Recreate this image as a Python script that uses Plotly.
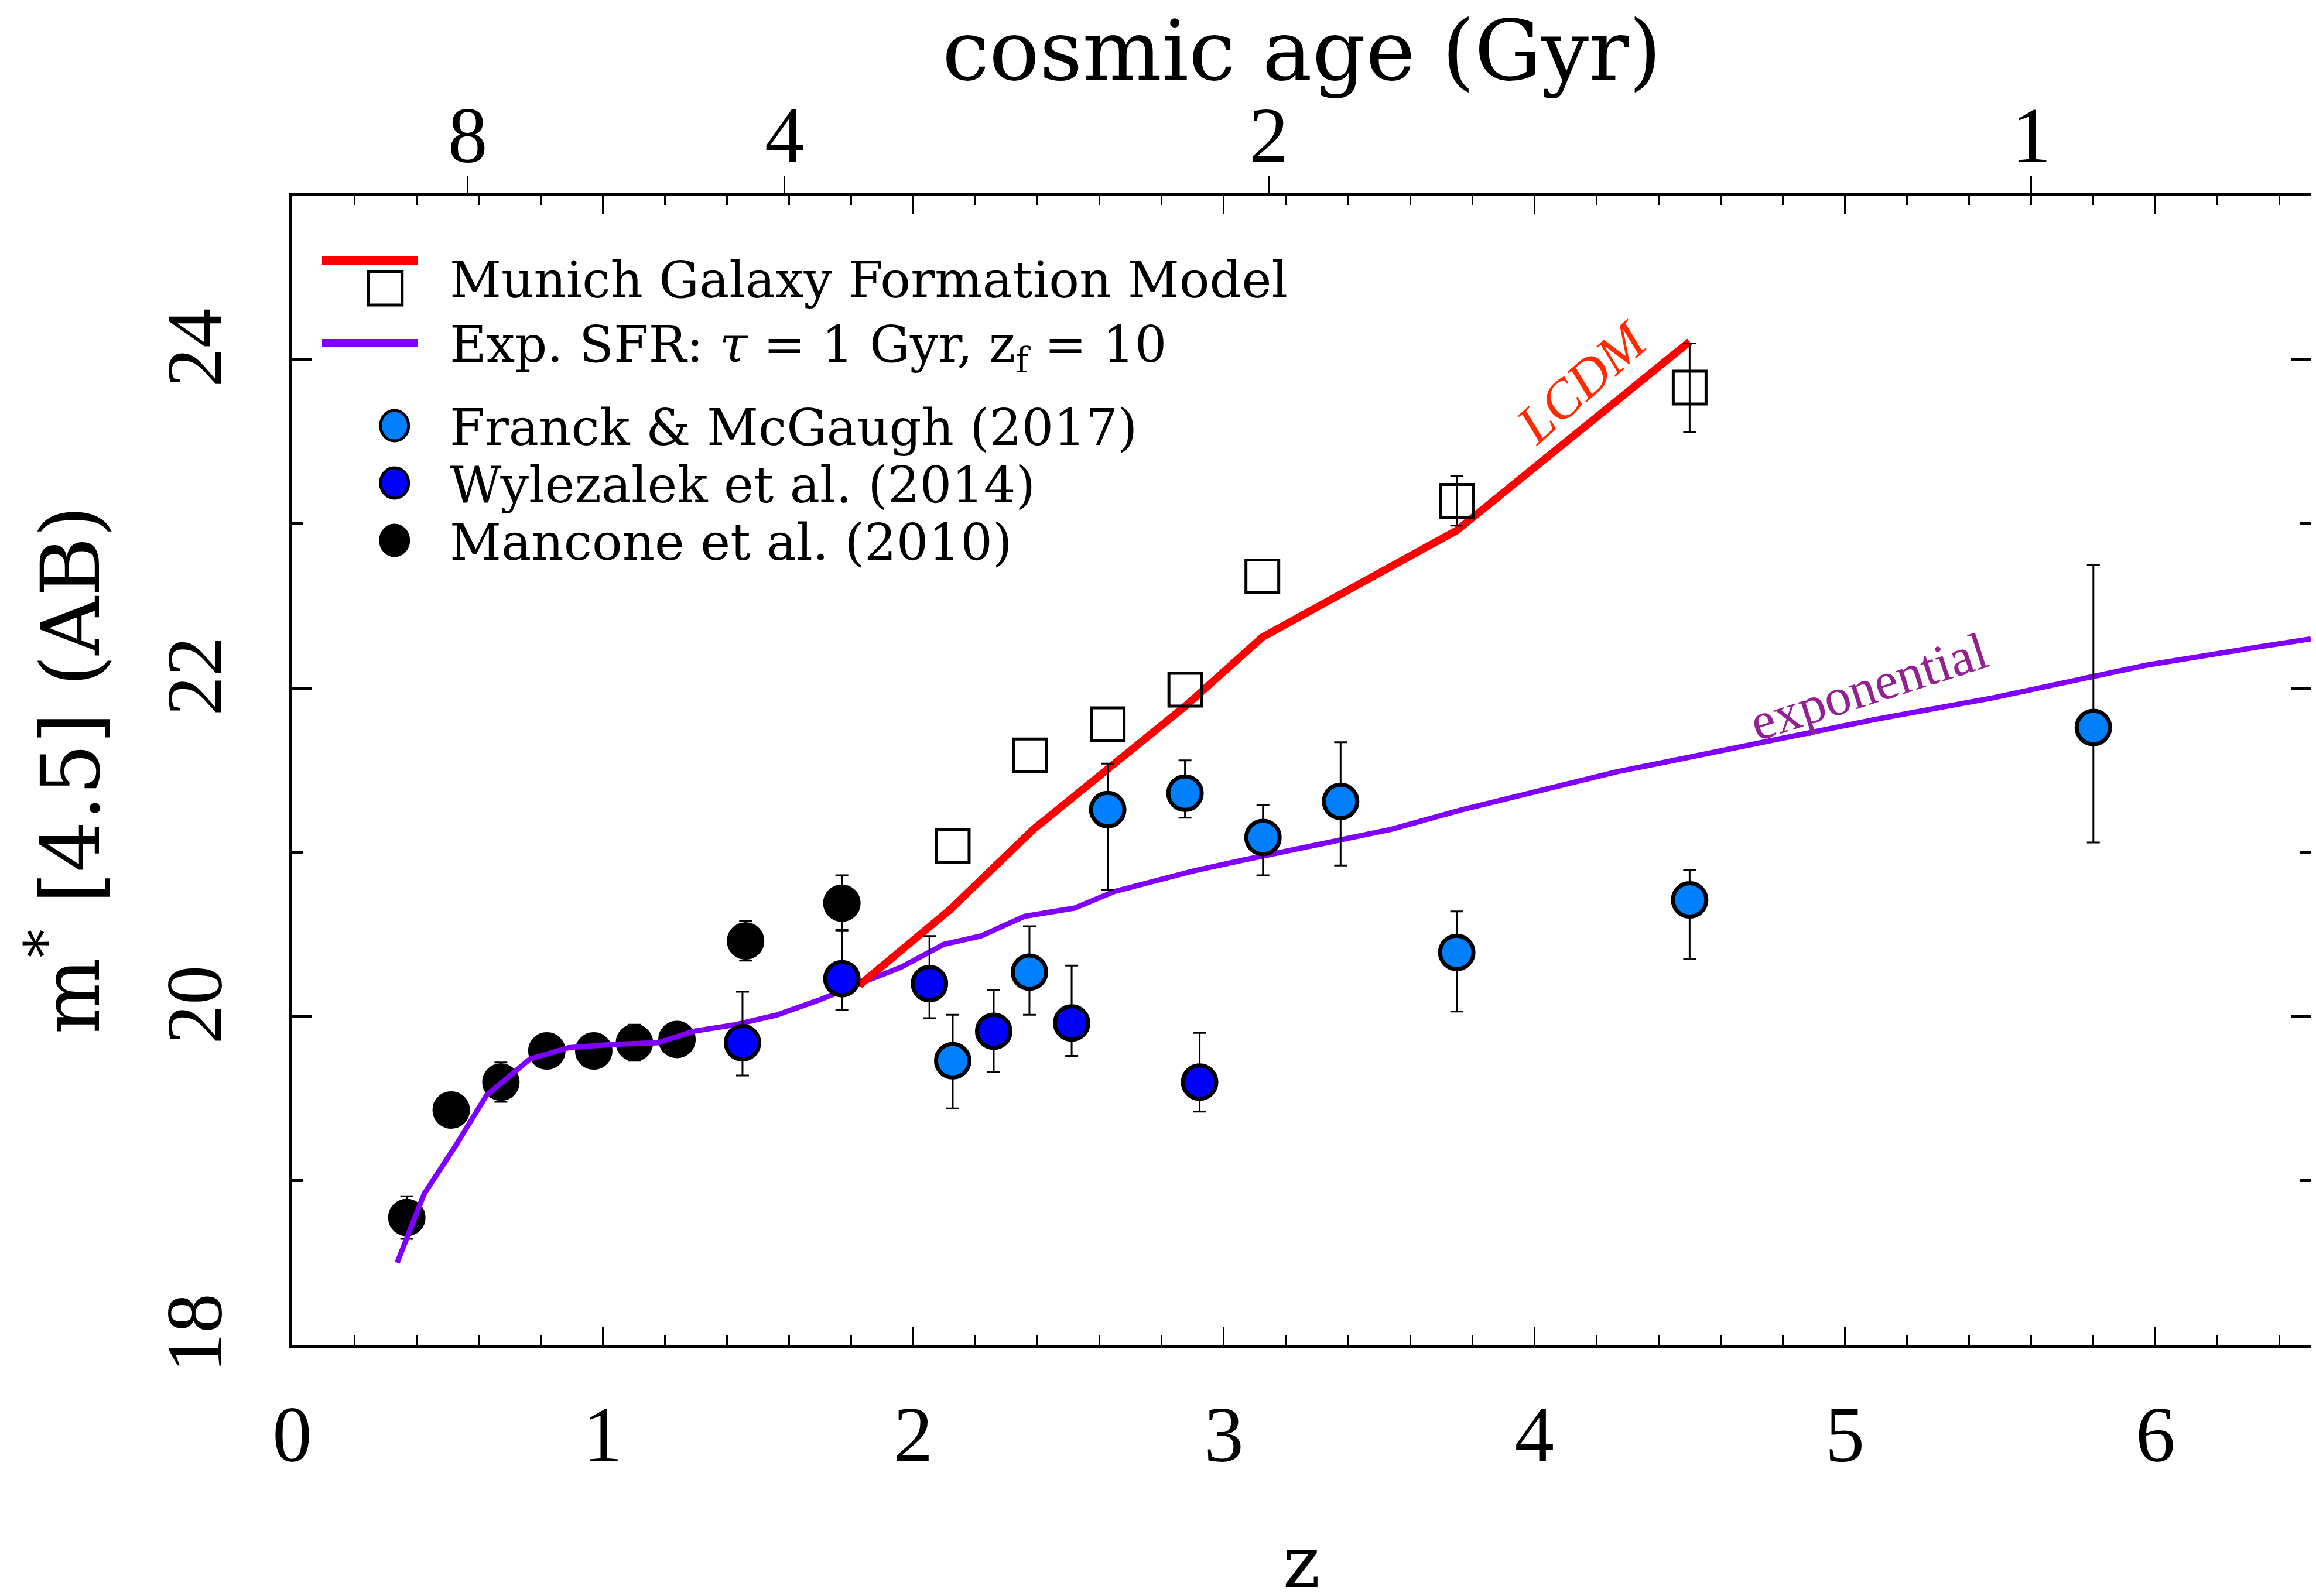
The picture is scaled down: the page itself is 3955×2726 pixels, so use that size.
import plotly.graph_objects as go

# ---------------- data ----------------
# Mancone et al. (2010)
man_z = [0.369, 0.512, 0.672, 0.820, 0.971, 1.102, 1.239, 1.460, 1.770]
man_m = [18.775, 19.43, 19.60, 19.79, 19.79, 19.84, 19.86, 20.46, 20.69]
man_e = [0.13, 0.08, 0.12, 0.08, 0.08, 0.11, 0.08, 0.12, 0.17]

# Wylezalek et al. (2014)
wyl_z = [1.450, 1.770, 2.052, 2.259, 2.510, 2.922]
wyl_m = [19.84, 20.23, 20.20, 19.91, 19.96, 19.60]
wyl_ep = [0.31, 0.30, 0.29, 0.25, 0.35, 0.30]
wyl_em = [0.20, 0.19, 0.21, 0.25, 0.20, 0.18]

# Franck & McGaugh (2017)
fm_z = [2.127, 2.374, 2.626, 2.875, 3.126, 3.376, 3.750, 4.500, 5.800]
fm_m = [19.73, 20.27, 21.26, 21.36, 21.09, 21.31, 20.39, 20.71, 21.76]
fm_ep = [0.28, 0.28, 0.28, 0.20, 0.20, 0.36, 0.25, 0.18, 0.99]
fm_em = [0.29, 0.26, 0.49, 0.15, 0.23, 0.39, 0.36, 0.36, 0.70]

# Munich Galaxy Formation Model (open squares); None = no error bar drawn
mun_z = [2.127, 2.376, 2.626, 2.876, 3.124, 3.750, 4.500]
mun_m = [21.04, 21.59, 21.78, 21.99, 22.68, 23.14, 23.83]
mun_e = [None, None, None, None, None, 0.15, 0.27]

# LCDM model line
lcdm_z = [1.826, 1.907, 2.118, 2.387, 2.630, 2.876, 3.124, 3.750, 4.500]
lcdm_m = [20.19, 20.32, 20.65, 21.14, 21.52, 21.89, 22.31, 22.96, 24.11]

# Exponential SFR model line
exp_z = [0.338, 0.425, 0.522, 0.626, 0.765, 0.890, 1.034, 1.178, 1.293, 1.428,
         1.562, 1.697, 1.826, 1.961, 2.099, 2.218, 2.358, 2.519, 2.646, 2.910,
         3.056, 3.390, 3.540, 3.768, 4.085, 4.264, 4.423, 4.781, 5.099, 5.475,
         5.793, 5.972, 6.330, 6.500]
exp_m = [18.50, 18.92, 19.20, 19.52, 19.74, 19.81, 19.83, 19.84, 19.91, 19.95,
         20.01, 20.10, 20.20, 20.30, 20.44, 20.49, 20.61, 20.66, 20.76, 20.89,
         20.95, 21.08, 21.14, 21.26, 21.41, 21.49, 21.55, 21.69, 21.81, 21.94,
         22.07, 22.14, 22.25, 22.30]

# cosmic age axis (top): redshift positions of age ticks
age_z = [0.565, 1.585, 3.145, 5.600]
age_labels = ["8", "4", "2", "1"]

x_ticks = [0, 1, 2, 3, 4, 5, 6]
y_ticks = [18, 20, 22, 24]

# ---------------- style ----------------
OFF = 8                      # page body margin of the html page
W, H = 3955 - OFF, 2726 - OFF
L, R, T, B = 491, 4, 326, 429
PW, PH = W - L - R, H - T - B
TXT = "DejaVu Serif"
NUM = "Liberation Serif"
LIGHTBLUE = "#0080FF"
BLUE = "#0000FF"
PURPLE = "#8000FF"
RED = "#FF0000"


def px(X):
    """screen x (reference image pixels) -> paper fraction"""
    return (X - OFF - L) / PW


def py(Y):
    """screen y (reference image pixels) -> paper fraction"""
    return (H - B - (Y - OFF)) / PH


fig = go.Figure()

# Mancone (drawn first; model line passes over them)
fig.add_trace(go.Scatter(
    x=man_z, y=man_m, mode="markers",
    marker=dict(size=58, color="black", line=dict(color="black", width=6)),
    error_y=dict(type="data", array=man_e, color="black", thickness=3, width=11),
    showlegend=False))

fig.add_trace(go.Scatter(x=exp_z, y=exp_m, mode="lines",
                         line=dict(color=PURPLE, width=9), showlegend=False))
fig.add_trace(go.Scatter(x=lcdm_z, y=lcdm_m, mode="lines",
                         line=dict(color=RED, width=13), showlegend=False))

# Munich squares: those without error bars, then those with error bars
sq_marker = dict(symbol="square-open", size=56, color="black", line=dict(width=5))
no_err = [i for i, e in enumerate(mun_e) if e is None]
with_err = [i for i, e in enumerate(mun_e) if e is not None]
fig.add_trace(go.Scatter(
    x=[mun_z[i] for i in no_err], y=[mun_m[i] for i in no_err], mode="markers",
    marker=sq_marker, showlegend=False))
fig.add_trace(go.Scatter(
    x=[mun_z[i] for i in with_err], y=[mun_m[i] for i in with_err], mode="markers",
    marker=sq_marker,
    error_y=dict(type="data", array=[mun_e[i] for i in with_err], color="black",
                 thickness=3, width=11),
    showlegend=False))

fig.add_trace(go.Scatter(
    x=wyl_z, y=wyl_m, mode="markers",
    marker=dict(size=57, color=BLUE, line=dict(color="black", width=7)),
    error_y=dict(type="data", array=wyl_ep, arrayminus=wyl_em, color="black",
                 thickness=3, width=11),
    showlegend=False))

fig.add_trace(go.Scatter(
    x=fm_z, y=fm_m, mode="markers",
    marker=dict(size=57, color=LIGHTBLUE, line=dict(color="black", width=7)),
    error_y=dict(type="data", array=fm_ep, arrayminus=fm_em, color="black",
                 thickness=3, width=11),
    showlegend=False))

# dummy trace for top (cosmic age) axis
fig.add_trace(go.Scatter(x=[None], y=[None], xaxis="x2", showlegend=False,
                         hoverinfo="skip"))

axis_common = dict(showline=True, linecolor="black", linewidth=5, mirror="ticks",
                   showgrid=False, zeroline=False, ticks="inside",
                   tickcolor="black")

fig.update_layout(
    width=W, height=H,
    margin=dict(l=L, r=R, t=T, b=B, pad=0),
    paper_bgcolor="white", plot_bgcolor="white",
    xaxis=dict(range=[0, 6.5], tickvals=x_ticks, ticklen=31, tickwidth=3,
               tickfont=dict(family=NUM, size=135, color="black"),
               ticklabelstandoff=32,
               minor=dict(dtick=0.2, ticklen=16, tickwidth=3, ticks="inside",
                          tickcolor="black", showgrid=False),
               **axis_common),
    yaxis=dict(range=[18, 25], tickvals=y_ticks, ticklen=34, tickwidth=5,
               tickangle=-90,
               tickfont=dict(family=NUM, size=135, color="black"),
               ticklabelstandoff=62,
               minor=dict(dtick=1, ticklen=18, tickwidth=5, ticks="inside",
                          tickcolor="black", showgrid=False),
               **axis_common),
    xaxis2=dict(overlaying="x", side="top", anchor="y", range=[0, 6.5],
                tickvals=age_z, showticklabels=False, ticks="outside",
                ticklen=32, tickwidth=3, tickcolor="black",
                showline=False, showgrid=False, zeroline=False),
)

ann = []
# top axis (cosmic age) tick labels
for zv, lab in zip(age_z, age_labels):
    ann.append(dict(text=lab, x=zv, y=py(232), xref="x", yref="paper",
                    showarrow=False, font=dict(family=NUM, size=135, color="black"),
                    xanchor="center", yanchor="middle"))
# axis titles
ann.append(dict(text="z", x=0.5, y=py(2668), xref="paper", yref="paper",
                showarrow=False, font=dict(family=TXT, size=120, color="black"),
                xanchor="center", yanchor="middle"))
ann.append(dict(text="cosmic age (Gyr)", x=0.5, y=py(86), xref="paper", yref="paper",
                showarrow=False, font=dict(family=TXT, size=143, color="black"),
                xanchor="center", yanchor="middle"))
ann.append(dict(text="m<sup>*</sup> [4.5] (AB)", x=px(110), y=py(1315),
                xref="paper", yref="paper", textangle=-90,
                showarrow=False, font=dict(family=TXT, size=138, color="black"),
                xanchor="center", yanchor="middle"))

# in-plot labels
ann.append(dict(text="<i>LCDM</i>", x=px(2704), y=py(653), xref="paper", yref="paper",
                textangle=-41.5, showarrow=False,
                font=dict(family=NUM, size=92, color="#FF2A00"),
                xanchor="center", yanchor="middle"))
ann.append(dict(text="exponential", x=px(3195), y=py(1172), xref="paper", yref="paper",
                textangle=-17.9, showarrow=False,
                font=dict(family=NUM, size=90, color="#942192"),
                xanchor="center", yanchor="middle"))

# legend texts
leg_x = px(766)
leg_rows = [("Munich Galaxy Formation Model", 478),
            ("Exp. SFR: <i>τ</i> = 1 Gyr, z<sub>f</sub> = 10", 594),
            ("Franck & McGaugh (2017)", 730),
            ("Wylezalek et al. (2014)", 828),
            ("Mancone et al. (2010)", 926)]
for txt, yy in leg_rows:
    ann.append(dict(text=txt, x=leg_x, y=py(yy), xref="paper", yref="paper",
                    showarrow=False, font=dict(family=TXT, size=86, color="black"),
                    xanchor="left", yanchor="middle"))
fig.update_layout(annotations=ann)

# legend symbols
shapes = []
shapes.append(dict(type="line", xref="paper", yref="paper", x0=px(550), x1=px(714),
                   y0=py(445), y1=py(445), line=dict(color=RED, width=14)))
shapes.append(dict(type="rect", xref="paper", yref="paper", x0=px(629), x1=px(687),
                   y0=py(464), y1=py(521), line=dict(color="black", width=5)))
shapes.append(dict(type="line", xref="paper", yref="paper", x0=px(550), x1=px(714),
                   y0=py(586), y1=py(586), line=dict(color=PURPLE, width=14)))
for col, yy in [(LIGHTBLUE, 727), (BLUE, 825), ("black", 923)]:
    shapes.append(dict(type="circle", xref="paper", yref="paper",
                       xsizemode="pixel", ysizemode="pixel",
                       xanchor=px(674), yanchor=py(yy),
                       x0=-24, x1=24, y0=-26, y1=26,
                       fillcolor=col, line=dict(color="black", width=5)))
fig.update_layout(shapes=shapes)

fig.write_html("out.html")
